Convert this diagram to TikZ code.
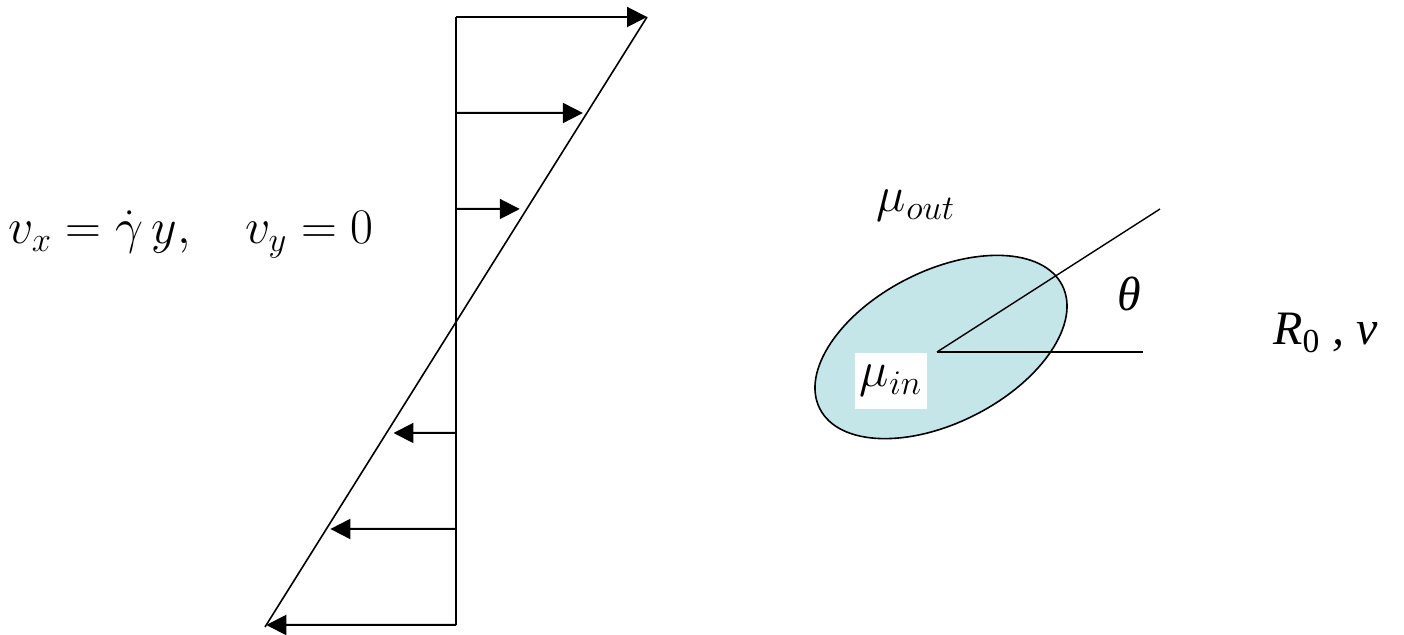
\documentclass[tikz,border=0pt]{standalone}
\usepackage{amsmath}
\usepackage{fontspec}
\setmainfont{Liberation Serif}
\usepackage{tikz}
\usetikzlibrary{arrows.meta, positioning, calc, shapes.geometric}
\usepackage{xcolor}
\definecolor{dropfill}{HTML}{C5E6E9}

\begin{document}
\begin{tikzpicture}[
  x=0.5pt, y=-0.5pt,
  vel/.style={-{Triangle[length=10pt, width=10pt]}, line width=1pt},
  wall/.style={line width=1pt},
  drop/.style={ellipse, draw, line width=0.8pt, fill=dropfill,
    minimum width=136pt, minimum height=76pt, inner sep=0pt},
  lbl/.style={font=\fontsize{23}{28}\selectfont, inner sep=0pt},
  tlbl/.style={font=\fontsize{24}{29}\selectfont\rmfamily\itshape, inner sep=0pt}
]
  \useasboundingbox (0,0) rectangle (1404,635);

  % Shear profile
  \coordinate (ptop) at (647,17);
  \coordinate (pbot) at (265,627);
  \foreach \y/\n in {17/1, 113/2, 209/3, 433/4, 529/5, 625/6} {
    \coordinate (w\n) at (456,\y);
    \coordinate (p\n) at ($(ptop)!{(\y-17)/610}!(pbot)$);
  }
  \draw[wall] (w1) -- (w6);
  \draw[line width=0.8pt] (ptop) -- (pbot);
  \foreach \n/\s in {1/0pt, 2/2pt, 3/3.5pt, 4/3.5pt, 5/2pt, 6/0pt} {
    \draw[vel, shorten >=\s] (w\n) -- (p\n);
  }

  % Velocity field
  \node[lbl, anchor=base] (shear) at (191,244)
    {$v_x = \dot{\gamma}\, y, \quad v_y = 0$};

  % Drop
  \node[drop, rotate=27] (drop) at (941,347) {};
  \node[lbl, fill=white, minimum width=36pt, minimum height=28pt]
    (muin) at (891,381) {$\mu_{in}$};
  \node[lbl] (muout) at (916,206) {$\mu_{out}$};

  % Orientation angle
  \coordinate (o) at (937,352);
  \coordinate (axis) at (1160,209);
  \coordinate (hor) at (1143,352);
  \draw[line width=0.7pt] (o) -- (axis);
  \draw[line width=0.7pt] (o) -- (hor);
  \node[tlbl, anchor=base] (theta) at (1129,311) {θ};

  % Drop parameters
  \node[tlbl, anchor=base west] (param) at (1273,345)
    {R\textsubscript{\upshape 0} , ν};
\end{tikzpicture}
\end{document}
